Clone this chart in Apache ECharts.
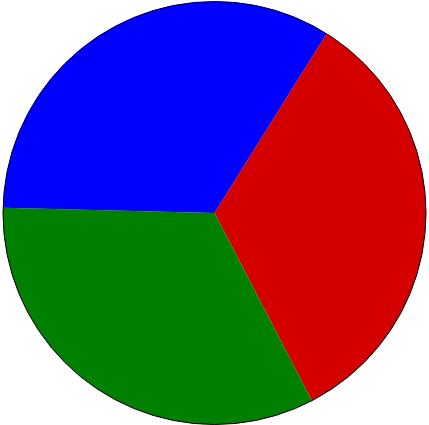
<!doctype html>
<html>
<head>
    <meta charset="UTF-8">
    <title>pie</title>
    <script src="https://cdn.jsdelivr.net/npm/echarts@6/dist/echarts.min.js"></script>
    <style>
        html, body { margin: 0; padding: 0; background: #fff; }
        #main { width: 429px; height: 425px; }
    </style>
</head>
<body>
<div id="main"></div>
<script>
    // slice data, clockwise from the red one
    var names = ['A', 'B', 'C'];
    var values = [33.5, 33.0, 33.5];
    var colors = ['#d40000', '#008000', '#0000ff'];

    var myChart = echarts.init(document.getElementById('main'));

    var pieData = [];
    for (var i = 0; i < names.length; i++) {
        pieData.push({ name: names[i], value: values[i], itemStyle: { color: colors[i] } });
    }

    var option = {
        animation: false,
        series: [
            {
                type: 'pie',
                center: [214.5, 213],
                radius: 211.5,
                startAngle: 58,
                clockwise: true,
                label: { show: false },
                labelLine: { show: false },
                silent: true,
                data: pieData
            },
            {
                // outer outline only
                type: 'pie',
                center: [214.5, 213],
                radius: 211.5,
                label: { show: false },
                silent: true,
                itemStyle: { color: 'none', borderColor: '#000', borderWidth: 1 },
                data: [{ value: 1 }]
            }
        ]
    };
    myChart.setOption(option);
</script>
</body>
</html>
